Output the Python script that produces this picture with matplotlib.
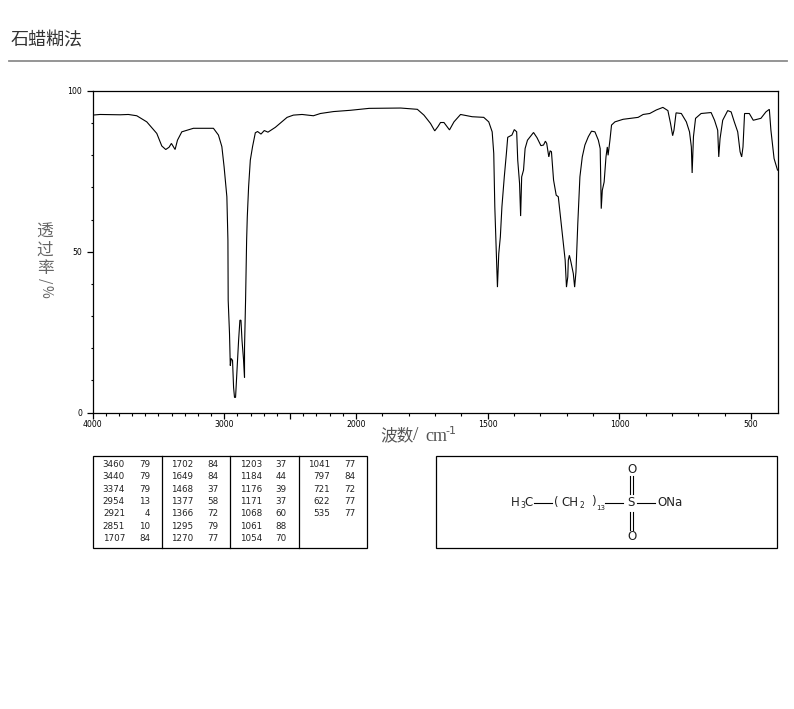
import matplotlib
matplotlib.use("Agg")
import matplotlib.pyplot as plt
import numpy as np
from matplotlib.scale import FuncScale

plt.rcParams['font.family'] = ['Noto Sans CJK SC', 'DejaVu Sans']

wavenumber = [4000, 3943, 3791, 3728, 3664, 3588, 3512, 3474, 3444, 3419, 3401, 3373, 3355, 3322, 3234, 3082,
              3044, 3018, 3001, 2980, 2972, 2970, 2960, 2954, 2947, 2937, 2929, 2922, 2914, 2903, 2891, 2881,
              2873, 2865, 2853, 2846, 2846, 2838, 2830, 2825, 2815, 2802, 2785, 2764, 2747, 2721, 2696, 2668,
              2612, 2523, 2475, 2409, 2323, 2270, 2171, 2042, 1950, 1830,
              1767, 1742, 1717, 1701, 1689, 1679, 1666, 1645, 1628, 1603, 1559, 1515, 1496, 1483, 1477, 1473,
              1467, 1463, 1458, 1452, 1446, 1437, 1429, 1424, 1408, 1399, 1390, 1386, 1379, 1375, 1371, 1364,
              1358, 1349, 1326, 1313, 1298, 1288, 1281, 1276, 1268, 1263, 1258, 1250, 1240, 1232, 1221, 1213,
              1206, 1201, 1196, 1194, 1190, 1184, 1175, 1170, 1165, 1158, 1150, 1141, 1131, 1118, 1106, 1093,
              1080, 1073, 1069, 1065, 1058, 1051, 1046, 1043, 1036, 1030, 1017, 986, 929, 910, 885, 860, 835,
              816, 806, 798, 793, 785, 765, 746, 734, 727, 724, 719, 711, 690, 652, 639, 627, 623, 618, 608,
              589, 576, 564, 551, 542, 536, 531, 525, 507, 492, 463, 444, 431, 425, 413, 400]
transmittance = [92.5, 92.7, 92.6, 92.7, 92.3, 90.4, 86.8, 82.9, 81.8, 82.5, 83.7, 81.8, 84.7, 87.3, 88.4, 88.4,
                 86.3, 82.7, 76.4, 67.1, 53.6, 34.9, 24.6, 14.6, 16.8, 16.2, 7.8, 4.7, 4.7, 13, 22.4, 28.7,
                 28.7, 22.4, 16.2, 10.9, 20, 34.9, 53.6, 60.8, 70.2, 78.5, 82.7, 87, 87.4, 86.6, 87.7, 87.2,
                 88.7, 91.8, 92.5, 92.7, 92.3, 93, 93.6, 94, 94.6, 94.7,
                 94.3, 92.5, 89.9, 87.6, 88.9, 90.2, 90.2, 87.9, 90.4, 92.7, 92, 91.8, 90.4, 87.3, 80.6, 64,
                 49.4, 39, 49.4, 54.6, 64, 73.3, 80.6, 85.6, 86.3, 88, 87.3, 78.5, 71.2, 61.1, 73.3, 75.4,
                 82.1, 84.7, 87.1, 85.5, 83, 83.2, 84.4, 83.7, 79.5, 81.4, 81.1, 72.3, 67.6, 67.1, 58.8, 52.5,
                 47.4, 39, 42.2, 47.4, 48.9, 46.8, 43.2, 39, 43.7, 58.8, 73.3, 79.5, 83.2, 85.8, 87.5, 87.3,
                 84.7, 82.1, 63.4, 69.1, 71.7, 79.5, 82.6, 80, 84.7, 89.4, 90.4, 91.2, 91.8, 92.7, 93, 94.1, 94.9,
                 93.9, 89.9, 86.1, 87.8, 93.2, 93, 90.4, 87.3, 82.6, 74.5, 85.8, 91.5, 93, 93.3, 90.9, 87.8, 79.5, 85.2, 90.9,
                 93.9, 93.5, 90.4, 87.3, 81.1, 79.5, 82.6, 93, 93, 90.9, 91.5, 93.5, 94.3, 87.8, 79, 75.4]

x_major = [4000, 3000, 2500, 2000, 1500, 1000, 500]
x_labels = ['4000', '3000', '', '2000', '1500', '1000', '500']
y_major = [0, 50, 100]
peak_table = [
    [('3460', '79'), ('3440', '79'), ('3374', '79'), ('2954', '13'), ('2921', '4'), ('2851', '10'), ('1707', '84')],
    [('1702', '84'), ('1649', '84'), ('1468', '37'), ('1377', '58'), ('1366', '72'), ('1295', '79'), ('1270', '77')],
    [('1203', '37'), ('1184', '44'), ('1176', '39'), ('1171', '37'), ('1068', '60'), ('1061', '88'), ('1054', '70')],
    [('1041', '77'), ('797', '84'), ('721', '72'), ('622', '77'), ('535', '77')],
]
title_text = '石蜡糊法'

W, H = 794, 709
fig = plt.figure(figsize=(W / 100, H / 100), dpi=100, facecolor='white')

# page overlay measured in pixels
page = fig.add_axes([0, 0, 1, 1], zorder=0)
page.set_xlim(0, W)
page.set_ylim(H, 0)
page.axis('off')

ax = fig.add_axes([92.5 / W, 1 - 412.5 / H, 685 / W, 321.5 / H], zorder=1)


def forward(v):
    v = np.asarray(v, dtype=float)
    return np.where(v <= 2000, 2.0 * v, 4000 + (v - 2000))


def inverse(u):
    u = np.asarray(u, dtype=float)
    return np.where(u <= 4000, u / 2.0, 2000 + (u - 4000))


ax.set_xscale(FuncScale(ax, (forward, inverse)))
ax.plot(wavenumber, transmittance, color='black', lw=0.8, solid_joinstyle='miter')
ax.set_xlim(4000, 400)
ax.set_ylim(0, 100)
ax.patch.set_alpha(0)
for s in ax.spines.values():
    s.set_linewidth(0.9)

ax.set_xticks(x_major)
ax.set_xticklabels(x_labels, fontsize=5.6, family='DejaVu Sans')
ax.set_xticks([v for v in range(500, 4000, 100) if v not in x_major], minor=True)
ax.set_xticklabels([], minor=True)
ax.set_yticks(y_major)
ax.set_yticklabels(['0', '50', '100'], fontsize=5.6, family='DejaVu Sans')
ax.set_yticks([v for v in range(10, 100, 10) if v != 50], minor=True)
ax.set_yticklabels([], minor=True)
ax.tick_params(axis='both', which='major', length=4.2, width=0.9, pad=1.5, color='black')
ax.tick_params(axis='y', which='major', pad=3.4)
ax.tick_params(axis='both', which='minor', length=1.8, width=0.8, color='black')

# header
page.text(11, 40.5, title_text, fontsize=13, color='#333333', va='center', ha='left')
page.plot([9, 787], [60.5, 60.5], color='#8c8c8c', lw=1.3)

# axis titles
page.text(45, 232, '透', fontsize=12, color='#666666', ha='center', va='center')
page.text(45, 250, '过', fontsize=12, color='#666666', ha='center', va='center')
page.text(45, 268, '率', fontsize=12, color='#666666', ha='center', va='center')
page.text(45, 281, '/', fontsize=10, color='#666666', ha='center', va='center', rotation=270)
page.text(45, 291, '%', fontsize=10, color='#666666', ha='center', va='center', rotation=270)
page.text(380, 435.5, '波数', fontsize=12, color='#555555', ha='left', va='center')
page.text(415.5, 435.5, '/', fontsize=14, color='#555555', ha='center', va='center', family='Liberation Serif')
page.text(425, 436.5, 'cm', fontsize=13, color='#555555', ha='left', va='center', family='Liberation Serif')
page.text(445.5, 431, '-1', fontsize=8, color='#555555', ha='left', va='center', family='DejaVu Sans')

# peak table
page.add_patch(plt.Rectangle((92.5, 456), 274, 91.5, fill=False, ec='black', lw=0.9))
col_lines = [161.5, 229.5, 298.5]
for cx in col_lines:
    page.plot([cx, cx], [456, 547.5], color='black', lw=0.9)
col_w = 68.4
for c, col in enumerate(peak_table):
    for r, (wn, tr) in enumerate(col):
        yy = 464.7 + r * 12.27
        off = c * col_w
        page.text(125 + off, yy, wn, fontsize=6.3, ha='right', va='center', family='DejaVu Sans', color='#222222')
        page.text(150 + off, yy, tr, fontsize=6.3, ha='right', va='center', family='DejaVu Sans', color='#222222')

# structure box
page.add_patch(plt.Rectangle((435.5, 456), 341.5, 91.5, fill=False, ec='black', lw=0.9))
fs = 8.5
kw = dict(fontsize=fs, ha='left', va='center', family='DejaVu Sans', color='#222222')
sub = dict(fontsize=5.5, ha='left', va='center', family='DejaVu Sans', color='#222222')
page.text(510.5, 503, 'H', **kw)
page.text(520, 505.5, '3', **sub)
page.text(524.5, 503, 'C', **kw)
page.plot([534, 552], [502.5, 502.5], color='black', lw=0.8)
page.text(554, 502.5, '(', **kw)
page.text(561.5, 503, 'CH', **kw)
page.text(580, 505.5, '2', **sub)
page.text(591, 502, ')', **kw)
page.text(596, 508.5, '13', fontsize=5, ha='left', va='center', family='DejaVu Sans', color='#222222')
page.plot([605, 623], [502.5, 502.5], color='black', lw=0.8)
page.text(631, 503, 'S', fontsize=fs, ha='center', va='center', family='DejaVu Sans', color='#222222')
page.plot([637, 655], [502.5, 502.5], color='black', lw=0.8)
page.text(657.5, 503, 'ONa', **kw)
page.text(631.5, 469.5, 'O', fontsize=fs, ha='center', va='center', family='DejaVu Sans', color='#222222')
page.text(631.5, 536, 'O', fontsize=fs, ha='center', va='center', family='DejaVu Sans', color='#222222')
for dx in (629.5, 632.8):
    page.plot([dx, dx], [475.5, 494], color='black', lw=0.8)
    page.plot([dx, dx], [511.5, 530], color='black', lw=0.8)

fig.savefig('out.png', dpi=100)
